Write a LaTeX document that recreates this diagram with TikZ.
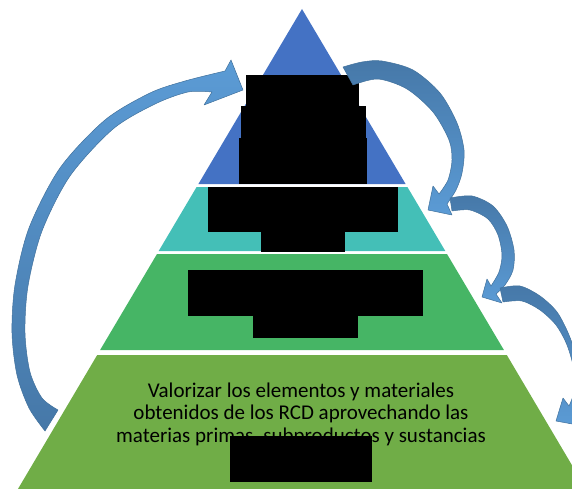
\documentclass[tikz,border=0pt]{standalone}
\usepackage{fontspec}
\setmainfont{Carlito}
\usepackage{tikz}
\tikzset{redact/.style = {fill = black},
  flecha/.style = {draw = aline, line width = 0.5, line join = round}}
\definecolor{pblue}{HTML}{4472C4}
\definecolor{pteal}{HTML}{44BFB7}
\definecolor{pgreen}{HTML}{46B565}
\definecolor{polive}{HTML}{70AD47}
\definecolor{alight}{HTML}{5B9BD5}
\definecolor{adark}{HTML}{4678A8}
\definecolor{aline}{HTML}{41719C}

\begin{document}
\begin{tikzpicture}[x = 1pt, y = -1pt]

      \useasboundingbox (0, 0) rectangle (572, 489);
      \clip (0, 0) rectangle (572, 489);

      \fill [pblue] (302, 9) -- (405.6, 184) -- (198.4, 184) -- cycle;
      \fill [pteal] (196.6, 187) -- (407.4, 187) -- (445.3, 251) -- (158.7, 251) -- cycle;
      \fill [pgreen] (157, 254) -- (447, 254) -- (503.9, 350) -- (100.1, 350) -- cycle;
      \fill [polive] (97.2, 355) -- (506.8, 355) -- (589, 494) -- (15, 494) -- cycle;

      \node (valor) [font = \fontsize{21}{22.5}\selectfont, align = center] at (301, 414)
        {Valorizar los elementos y materiales\\obtenidos de los RCD aprovechando las\\materias primas, subproductos y sustancias};

      \fill [redact] (246, 75) rectangle (359, 106);
      \fill [redact] (241, 106) rectangle (366, 138);
      \fill [redact] (239, 138) rectangle (367, 184);
      \fill [redact] (208, 187) rectangle (398, 232);
      \fill [redact] (261, 232) rectangle (345, 252);
      \fill [redact] (188, 270) rectangle (423, 316);
      \fill [redact] (253, 316) rectangle (358, 338);
      \fill [redact] (230, 436) rectangle (372, 482);

      \path [flecha, top color = alight, bottom color = adark]
        plot [smooth] coordinates {(45, 431) (29, 408) (17, 375) (12, 333) (15, 285) (29, 228) (60, 168) (105, 120) (150, 93) (185, 81) (225, 71)}
        -- (231, 60) -- (243, 90) -- (204, 105) --
        plot [smooth] coordinates {(212, 92) (188, 92) (155, 104) (113, 129) (70, 176) (42, 231) (28, 286) (25, 333) (30, 372) (42, 398) (58, 410)}
        -- cycle;
      \path [flecha, top color = adark, bottom color = alight]
        plot [smooth] coordinates {(343, 67) (362, 62) (382, 61) (413, 70) (440, 93) (457, 123) (464, 150) (462, 173) (456, 190) (447, 204)}
        -- (452, 215) -- (428, 210) -- (433, 186) --
        plot [smooth] coordinates {(439, 194) (448, 180) (452, 160) (449, 140) (433, 112) (407, 89) (378, 79) (353, 85)}
        -- cycle;
      \path [flecha, top color = adark, bottom color = alight]
        plot [smooth] coordinates {(450, 198) (472, 196) (493, 206) (507, 226) (514, 250) (513, 270) (505, 285) (496, 294)}
        -- (502, 303) -- (482, 297) -- (487, 279) --
        plot [smooth] coordinates {(491, 286) (499, 272) (502, 255) (498, 235) (488, 219) (470, 210) (452, 211)}
        -- cycle;
      \path [flecha, top color = adark, bottom color = alight]
        plot [smooth] coordinates {(500, 288) (520, 286) (540, 296) (557, 312) (569, 335) (578, 362) (582, 388) (580, 405) (576, 415)}
        -- (583, 426) -- (556, 421) -- (563, 398) --
        plot [smooth] coordinates {(569, 406) (574, 392) (574, 370) (567, 345) (556, 325) (540, 310) (522, 301) (503, 302)}
        -- cycle;

    \end{tikzpicture}
\end{document}
